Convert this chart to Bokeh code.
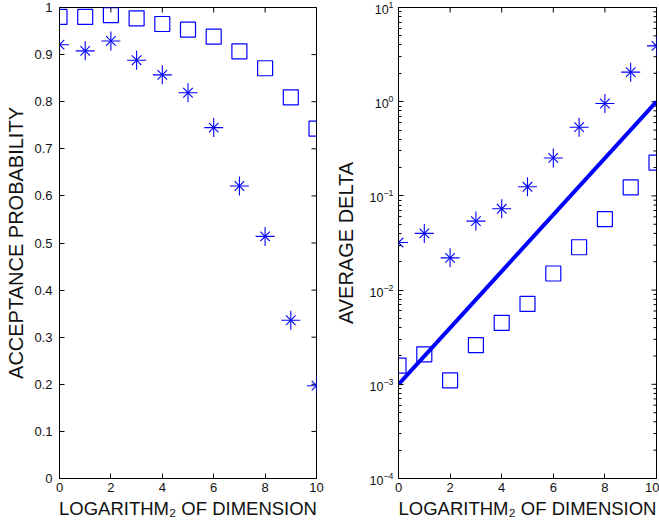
import math
from bokeh.plotting import figure
from bokeh.layouts import row
from bokeh.models import FixedTicker, Range1d
from bokeh.embed import file_html
from bokeh.resources import INLINE

# ---- data ----
log2_dim = [0, 1, 2, 3, 4, 5, 6, 7, 8, 9, 10]
accept_square = [0.980, 0.980, 0.984, 0.977, 0.965, 0.953, 0.938, 0.907, 0.871, 0.809, 0.743]
accept_star = [0.921, 0.908, 0.929, 0.888, 0.857, 0.819, 0.745, 0.621, 0.514, 0.336, 0.197]
delta_star = [0.032, 0.040, 0.022, 0.054, 0.073, 0.125, 0.253, 0.536, 0.957, 2.06, 3.91]
delta_square = [0.00158, 0.00208, 0.0011, 0.0026, 0.00449, 0.00714, 0.0150, 0.0285, 0.0566, 0.123, 0.226]
ref_line_x = [0, 10]
ref_line_y = [0.001, 1.0]

x_ticks = [0, 2, 4, 6, 8, 10]
prob_ticks = [0, 0.1, 0.2, 0.3, 0.4, 0.5, 0.6, 0.7, 0.8, 0.9, 1]
prob_tick_labels = ["0", "0.1", "0.2", "0.3", "0.4", "0.5", "0.6", "0.7", "0.8", "0.9", "1"]
delta_ticks = [1e-4, 1e-3, 1e-2, 1e-1, 1e0, 1e1]
delta_minor = [m * 10.0 ** e for e in range(-4, 1) for m in range(2, 10)]

FONT = "Liberation Sans"
BLUE = "#0000ff"
TXT = "#111111"
H = 525
TOP = 7
BOTTOM = 47


def style_axis(ax, tick_size="13px", label_size="18.5px", tick_standoff=4, label_standoff=3):
    ax.axis_line_color = "black"
    ax.axis_line_width = 1
    ax.major_tick_in = 5
    ax.major_tick_out = 0
    ax.minor_tick_in = 3
    ax.minor_tick_out = 0
    ax.major_tick_line_color = "black"
    ax.minor_tick_line_color = "black"
    ax.major_label_text_font = FONT
    ax.major_label_text_font_size = tick_size
    ax.major_label_text_color = TXT
    ax.axis_label_text_font = FONT
    ax.axis_label_text_font_size = label_size
    ax.axis_label_text_font_style = "normal"
    ax.axis_label_text_color = TXT
    ax.major_label_standoff = tick_standoff
    ax.axis_label_standoff = label_standoff


def edge_ticks(p, xs, ys, size, angle=0.0):
    # short inward ticks on the top/right frame edges (half of each dash is clipped by the frame)
    p.scatter(xs, ys, marker="dash", size=size, angle=angle, line_color="black", line_width=1)


def stars(p, x, y):
    p.scatter(x, y, marker="cross", size=19, line_color=BLUE, line_width=1.1, fill_color=None)
    p.scatter(x, y, marker="x", size=13.5, line_color=BLUE, line_width=1.1, fill_color=None)


def squares(p, x, y):
    p.scatter(x, y, marker="square", size=15, line_color=BLUE, line_width=1.2, fill_color=None)


# ---- left: acceptance probability ----
p1 = figure(width=330, height=H, output_backend="svg", toolbar_location=None,
            x_range=Range1d(0, 10), y_range=Range1d(0, 1),
            min_border_left=59, min_border_right=14, min_border_top=TOP, min_border_bottom=BOTTOM)
p1.grid.visible = False
p1.outline_line_color = "black"
p1.xaxis.ticker = FixedTicker(ticks=x_ticks)
p1.yaxis.ticker = FixedTicker(ticks=prob_ticks)
p1.yaxis.major_label_overrides = {t: s for t, s in zip(prob_ticks, prob_tick_labels)}
p1.xaxis.axis_label = "LOGARITHM\u2082 OF DIMENSION"
p1.yaxis.axis_label = "ACCEPTANCE PROBABILITY"
style_axis(p1.xaxis[0])
style_axis(p1.yaxis[0], label_size="20px", tick_standoff=7, label_standoff=4)
edge_ticks(p1, [p1.x_range.end] * len(prob_ticks), prob_ticks, 10)
edge_ticks(p1, x_ticks, [p1.y_range.end] * len(x_ticks), 10, angle=math.pi / 2)
squares(p1, log2_dim, accept_square)
stars(p1, log2_dim, accept_star)

# ---- right: average delta ----
p2 = figure(width=329, height=H, output_backend="svg", toolbar_location=None,
            x_range=Range1d(0, 10), y_range=Range1d(1e-4, 1e1), y_axis_type="log",
            min_border_left=68, min_border_right=3, min_border_top=TOP, min_border_bottom=BOTTOM)
p2.grid.visible = False
p2.outline_line_color = "black"
p2.xaxis.ticker = FixedTicker(ticks=x_ticks)
p2.yaxis.ticker = FixedTicker(ticks=delta_ticks, minor_ticks=delta_minor)
p2.xaxis.axis_label = "LOGARITHM\u2082 OF DIMENSION"
p2.yaxis.axis_label = "AVERAGE DELTA"
style_axis(p2.xaxis[0])
style_axis(p2.yaxis[0], tick_size="12.5px", label_size="20px", tick_standoff=5, label_standoff=10)
edge_ticks(p2, [p2.x_range.end] * len(delta_ticks), delta_ticks, 10)
edge_ticks(p2, [p2.x_range.end] * len(delta_minor), delta_minor, 6)
edge_ticks(p2, x_ticks, [p2.y_range.end] * len(x_ticks), 10, angle=math.pi / 2)
p2.line(ref_line_x, ref_line_y, line_color=BLUE, line_width=4)
stars(p2, log2_dim, delta_star)
squares(p2, log2_dim, delta_square)

layout = row(p1, p2, spacing=0)
open("out.html", "w").write(file_html(layout, INLINE))
